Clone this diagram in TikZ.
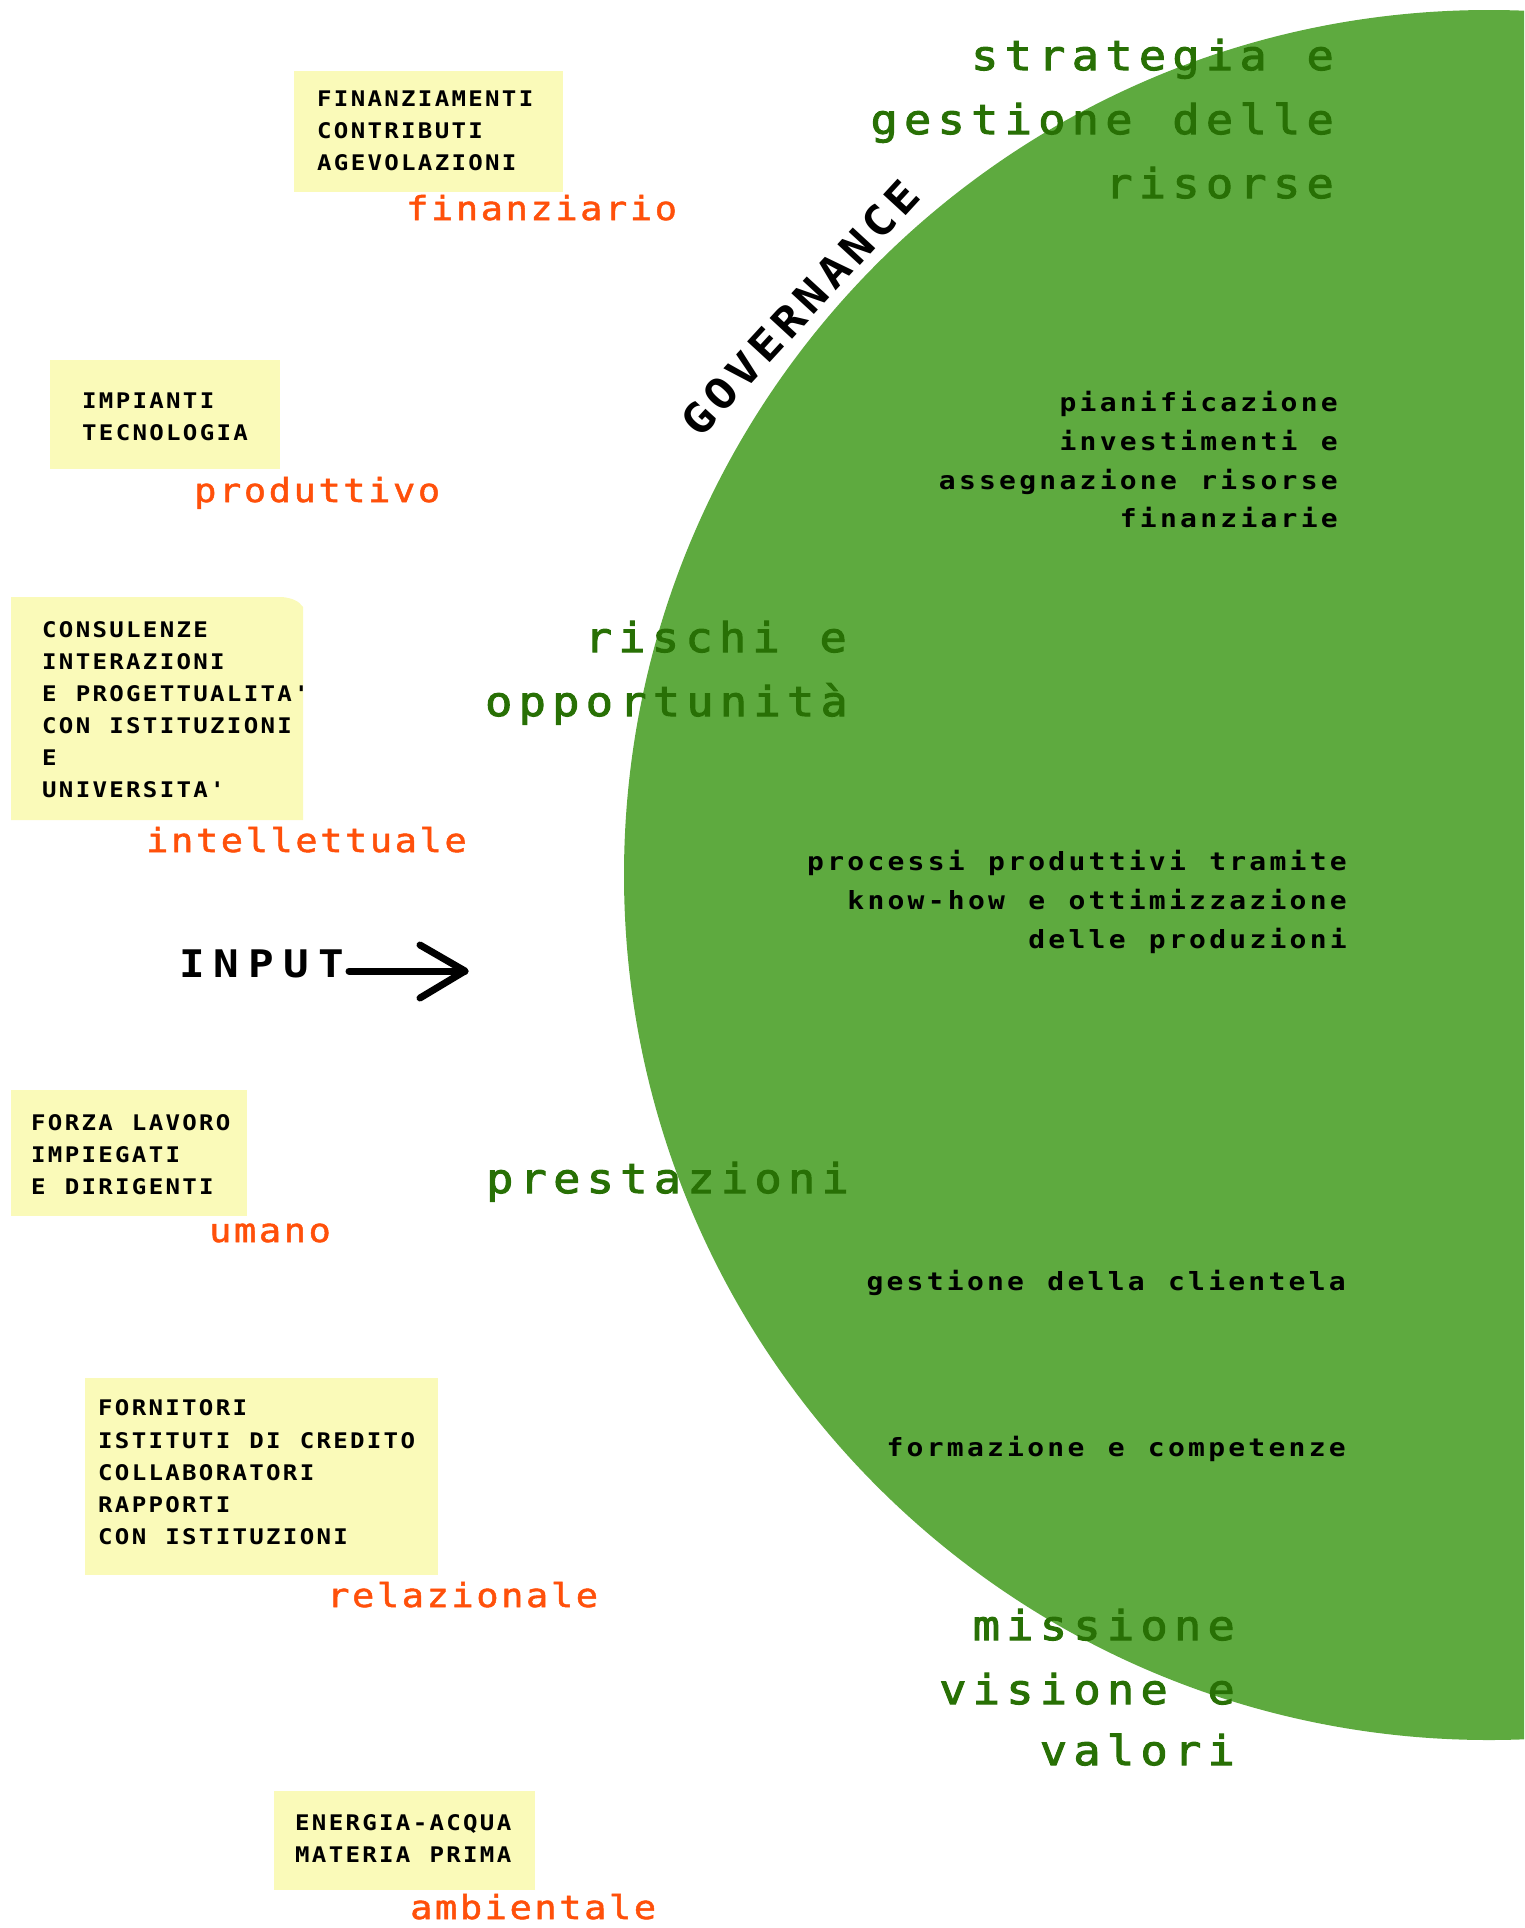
\documentclass[tikz,border=0pt]{standalone}
\usepackage{fontspec}
\newfontfamily\fBoxT{DejaVu Sans Mono Bold}[FakeStretch=1.12, LetterSpace=10.7]
\newfontfamily\fOrange{DejaVu Sans Mono}[FakeStretch=1.12, FakeBold=1.5, LetterSpace=7.9]
\newfontfamily\fGreen{DejaVu Sans Mono}[FakeStretch=1.1, FakeBold=2.5, LetterSpace=15.6]
\newfontfamily\fInner{DejaVu Sans Mono Bold}[FakeStretch=1.12, LetterSpace=13]
\newfontfamily\fInput{DejaVu Sans Mono Bold}[FakeStretch=1.12, LetterSpace=24]
\newfontfamily\fGov{DejaVu Sans Mono Bold}[FakeStretch=1.12, LetterSpace=12]
\newcommand\mybxfont{\fontsize{21.5}{32}\fBoxT\spaceskip 19.1pt\relax}
\newcommand\myorfont{\fontsize{33}{40}\fOrange}
\newcommand\mygrfont{\fontsize{41}{64}\fGreen\spaceskip 39.9pt\relax}
\newcommand\myinfont{\fontsize{25}{38}\fInner\spaceskip 23.34pt\relax}
\newcommand\myipfont{\fontsize{38}{44}\fInput}
\newcommand\mygvfont{\fontsize{42}{44}\fGov}
\definecolor{circlegreen}{RGB}{94,170,63}
\definecolor{darkgreen}{RGB}{40,112,5}
\definecolor{labelorange}{RGB}{255,80,10}
\definecolor{notefill}{RGB}{250,250,185}
\tikzset{
  ybox/.style={fill=notefill, draw=none, inner sep=0, anchor=north west},
  boxtext/.style={anchor=base west, inner sep=0, text=black, font={\mybxfont}},
  olabel/.style={anchor=base west, inner sep=0, text=labelorange, font={\myorfont}},
  ghead/.style={anchor=base east, inner sep=0, text=darkgreen, font={\mygrfont}},
  itext/.style={anchor=base east, inner sep=0, text=black, font={\myinfont}},
  arrowline/.style={line width=7pt, line cap=round, line join=round, black}
}
\begin{document}
\begin{tikzpicture}[x=1pt,y=-1pt]
\useasboundingbox (0,0) rectangle (1524,1928);
\clip (0,0) rectangle (1524,1928);
% big circle
\fill[circlegreen] (1489,875) circle[radius=865];

% note boxes
\node[ybox, minimum width=269, minimum height=121] (box1) at (294,71) {};
\node[ybox, minimum width=230, minimum height=109] (box2) at (50,360) {};
\fill[notefill] (11,597) -- (282,597) .. controls (292,598) and (299,601) .. (303,607) -- (303,820) -- (11,820) -- cycle;
\node[ybox, minimum width=236, minimum height=126] (box4) at (11,1090) {};
\node[ybox, minimum width=353, minimum height=197] (box5) at (85,1378) {};
\node[ybox, minimum width=261, minimum height=99] (box6) at (274,1791) {};

% box texts
\node[boxtext] (t1a) at (317,106) {FINANZIAMENTI};
\node[boxtext] (t1b) at (317,138) {CONTRIBUTI};
\node[boxtext] (t1c) at (317,170) {AGEVOLAZIONI};

\node[boxtext] (t2a) at (82,408) {IMPIANTI};
\node[boxtext] (t2b) at (82,440) {TECNOLOGIA};

\node[boxtext] (t3a) at (42,637) {CONSULENZE};
\node[boxtext] (t3b) at (42,669) {INTERAZIONI};
\node[boxtext] (t3c) at (42,701) {E PROGETTUALITA'};
\node[boxtext] (t3d) at (42,733) {CON ISTITUZIONI};
\node[boxtext] (t3e) at (42,765) {E};
\node[boxtext] (t3f) at (42,797) {UNIVERSITA'};

\node[boxtext] (t4a) at (31,1130) {FORZA LAVORO};
\node[boxtext] (t4b) at (31,1162) {IMPIEGATI};
\node[boxtext] (t4c) at (31,1194) {E DIRIGENTI};

\node[boxtext] (t5a) at (98,1415) {FORNITORI};
\node[boxtext] (t5b) at (98,1448) {ISTITUTI DI CREDITO};
\node[boxtext] (t5c) at (98,1480) {COLLABORATORI};
\node[boxtext] (t5d) at (98,1512) {RAPPORTI};
\node[boxtext] (t5e) at (98,1544) {CON ISTITUZIONI};

\node[boxtext] (t6a) at (295,1830) {ENERGIA-ACQUA};
\node[boxtext] (t6b) at (295,1862) {MATERIA PRIMA};

% orange labels
\node[olabel] (l1) at (406,220) {finanziario};
\node[olabel] (l2) at (194,502) {produttivo};
\node[olabel] (l3) at (146,852) {intellettuale};
\node[olabel] (l4) at (209,1242) {umano};
\node[olabel] (l5) at (327,1607) {relazionale};
\node[olabel] (l6) at (410,1919) {ambientale};

% green headings
\node[ghead] (g1a) at (1334,70) {strategia e};
\node[ghead] (g1b) at (1334,134) {gestione delle};
\node[ghead] (g1c) at (1334,198) {risorse};
\node[ghead] (g2a) at (847,652) {rischi e};
\node[ghead] (g2b) at (848,716) {opportunità};
\node[ghead] (g3) at (849,1193) {prestazioni};
\node[ghead] (g4a) at (1235,1640) {missione};
\node[ghead] (g4b) at (1235,1704) {visione e};
\node[ghead] (g4c) at (1235,1765) {valori};

% inner black texts
\node[itext] (i1a) at (1338,411) {pianificazione};
\node[itext] (i1b) at (1338,450) {investimenti e};
\node[itext] (i1c) at (1338,489) {assegnazione risorse};
\node[itext] (i1d) at (1338,527) {finanziarie};
\node[itext] (i2a) at (1347,870) {processi produttivi tramite};
\node[itext] (i2b) at (1347,909) {know-how e ottimizzazione};
\node[itext] (i2c) at (1347,948) {delle produzioni};
\node[itext] (i3) at (1346,1290) {gestione della clientela};
\node[itext] (i4) at (1346,1456) {formazione e competenze};

% governance
\node[inner sep=0, rotate=47.4, font={\mygvfont}] (gov) at (800,308) {GOVERNANCE};

% input arrow
\node[anchor=base west, inner sep=0, font={\myipfont}] (input) at (179,977) {INPUT};
\coordinate (tip) at (465,971);
\draw[arrowline] ([xshift=5pt,yshift=6pt]input.base east) -- (tip);
\draw[arrowline] ([shift={(-45,-26)}]tip) -- (tip) -- ([shift={(-45,27)}]tip);
\end{tikzpicture}
\end{document}
